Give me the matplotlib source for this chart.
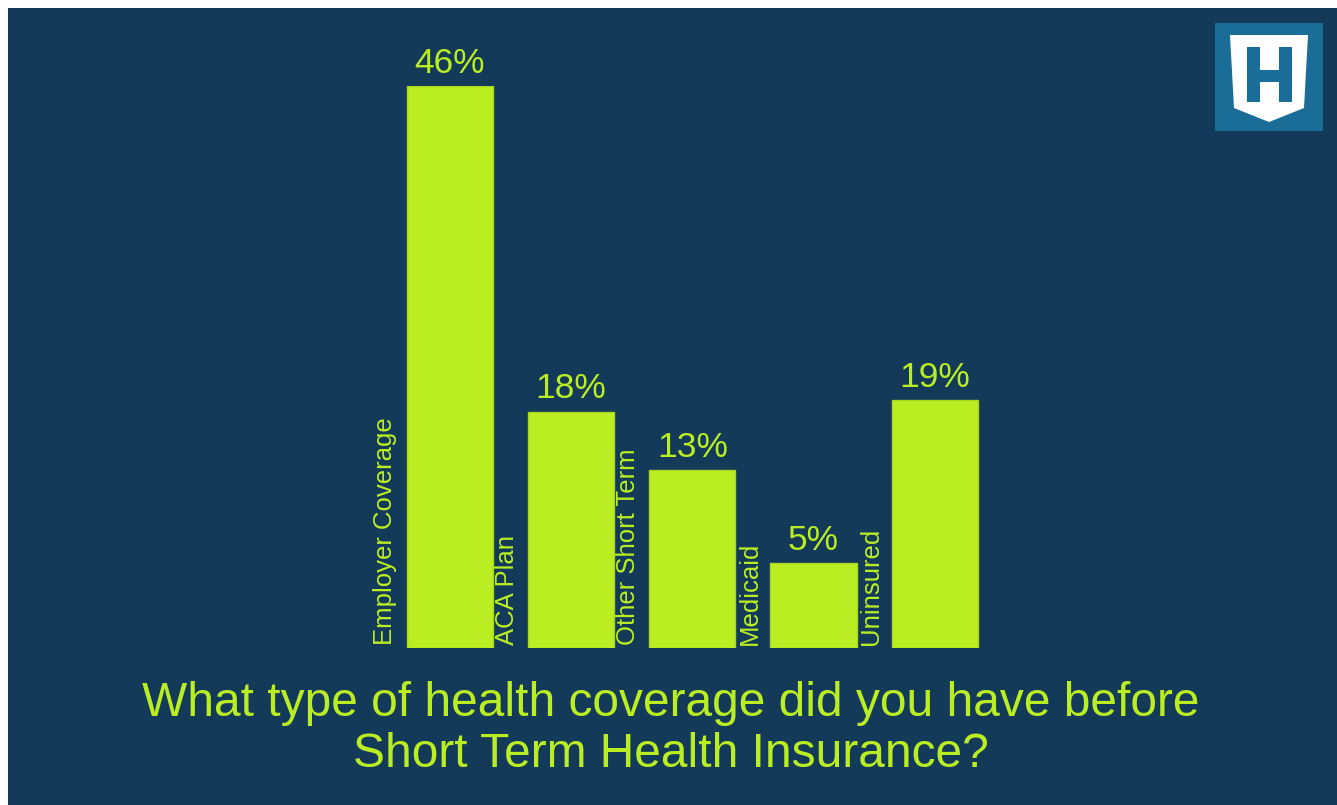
import matplotlib
matplotlib.use("Agg")
import matplotlib.pyplot as plt
from matplotlib.patches import Rectangle, Polygon

# Datos
categories = ["Employer Coverage", "ACA Plan", "Other Short Term", "Medicaid", "Uninsured"]
values = [46, 18, 13, 5, 19]
value_labels = ["46%", "18%", "13%", "5%", "19%"]
title = "What type of health coverage did you have before\nShort Term Health Insurance?"

BG = "#143a5a"
LIME = "#bbee22"
LOGO_BLUE = "#1a6d96"
BASE = -2.3   # el eje arranca un poco por debajo de cero

W, H = 1337, 805
plt.rcParams["font.family"] = ["Liberation Sans", "DejaVu Sans"]

fig = plt.figure(figsize=(W / 100, H / 100), dpi=100, facecolor="white")

# fondo azul oscuro con un borde blanco fino arriba e izquierda
fig.patches.append(Rectangle((8 / W, 0), 1, (H - 8) / H, transform=fig.transFigure,
                             facecolor=BG, edgecolor="none", zorder=-10))

ax = fig.add_axes([389 / W, (H - 648) / H, 606.5 / W, (648 - 86) / H])
x = range(len(categories))
ax.bar(x, [v - BASE for v in values], bottom=BASE, width=0.71,
       color=LIME, edgecolor="#a9d61f", linewidth=1)
ax.set_xlim(-0.5, len(categories) - 0.5)
ax.set_ylim(BASE, max(values))
ax.axis("off")

for i, (v, lab, cat) in enumerate(zip(values, value_labels, categories)):
    ax.text(i, v + 0.55, lab, ha="center", va="bottom", fontsize=25.5,
            color=LIME, clip_on=False)
    ax.text(i - 0.355 - 0.075, BASE + 0.25, cat, rotation=90, ha="right",
            va="bottom", fontsize=18.5, color=LIME, clip_on=False)

fig.text(671 / W, 1 - 729 / H, title, ha="center", va="center", fontsize=34.5,
         color=LIME, linespacing=1.15)

# logo "H" arriba a la derecha
lg = fig.add_axes([0, 0, 1, 1])
lg.set_xlim(0, W)
lg.set_ylim(H, 0)
lg.axis("off")
lg.add_patch(Rectangle((1215, 23), 108, 108, facecolor=LOGO_BLUE, edgecolor="none"))
lg.add_patch(Polygon([(1230, 35), (1308, 35), (1304, 108), (1269, 122), (1234, 108)],
                     closed=True, facecolor="white", edgecolor="none"))
lg.add_patch(Rectangle((1247, 47), 13, 55, facecolor=LOGO_BLUE, edgecolor="none"))
lg.add_patch(Rectangle((1279, 47), 13, 55, facecolor=LOGO_BLUE, edgecolor="none"))
lg.add_patch(Rectangle((1260, 70), 19, 12, facecolor=LOGO_BLUE, edgecolor="none"))

fig.savefig("out.png", dpi=100, facecolor=fig.get_facecolor())
